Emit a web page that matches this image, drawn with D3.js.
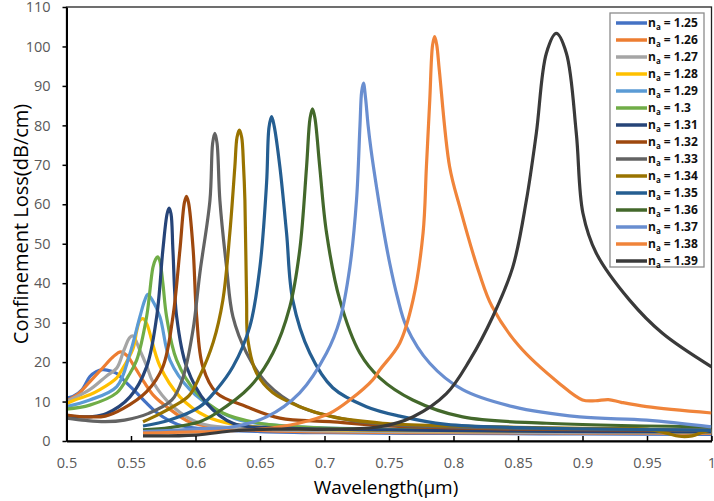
<!DOCTYPE html>
<html>
<head>
<meta charset="utf-8">
<script src="https://cdn.jsdelivr.net/npm/d3@7"></script>
<style>
    body { margin: 0; background: #fff; }
    .axis text { font-family: "Open Sans", sans-serif; font-size: 14.5px; fill: #595959; }
    .legend text { font-family: "Open Sans", sans-serif; font-weight: bold; font-size: 12px; fill: #111; }
</style>
</head>
<body>
<svg id="chart" width="714" height="501"></svg>
<script>
// wavelength (um), confinement loss (dB/cm)
var na125 = [[0.5,10.9],[0.505,11.3],[0.512,13],[0.518,16.3],[0.523,17.6],[0.528,18.1],[0.535,17.7],[0.539,17.1],[0.546,14.9],[0.5544,12.2],[0.5621,9.6],[0.5699,7.2],[0.58,5.1],[0.5902,3.8],[0.61,3],[0.65,2.4],[0.7,2.1],[0.8,1.9],[0.9,1.8],[1.0,1.7]];
var na126 = [[0.5,10.1],[0.51,12.2],[0.518,15],[0.528,18.5],[0.536,21.3],[0.542,22.6],[0.547,21.6],[0.552,19.2],[0.56,15],[0.5676,11.5],[0.5776,8.7],[0.5957,4.8],[0.62,3.3],[0.65,2.7],[0.7,2.3],[0.8,2.1],[0.9,2],[1.0,1.9]];
var na127 = [[0.5,10],[0.518,13],[0.5311,16.5],[0.539,18.5],[0.5445,23],[0.549,26.2],[0.5515,26.6],[0.5569,23],[0.5622,19],[0.567,15],[0.5825,8.7],[0.6034,4.5],[0.63,3.3],[0.68,2.7],[0.75,2.4],[0.85,2.2],[1.0,2.1]];
var na128 = [[0.5,9.4],[0.505,10.2],[0.518,11.7],[0.5259,13],[0.539,16],[0.5414,17.2],[0.5515,23.3],[0.5545,28],[0.557,30.6],[0.5595,31],[0.5625,29.5],[0.5647,27.2],[0.5724,19],[0.5879,11.2],[0.6086,6.2],[0.63,4.2],[0.67,3.2],[0.75,2.7],[0.85,2.5],[1.0,2.3]];
var na129 = [[0.5,8.7],[0.518,10.4],[0.539,13.8],[0.549,22],[0.5569,31.5],[0.5605,35.5],[0.563,37.2],[0.566,36],[0.5724,31.5],[0.5802,20.5],[0.5957,13],[0.6163,7.9],[0.6344,5.3],[0.67,3.8],[0.75,3],[0.85,2.7],[1.0,2.5]];
var na130 = [[0.5,8.1],[0.518,9.1],[0.5389,12.2],[0.548,16.5],[0.5544,20.5],[0.5621,31.5],[0.567,44],[0.569,46],[0.5706,46.7],[0.5722,45.8],[0.5747,40],[0.5776,31.5],[0.5854,20.5],[0.6009,12.2],[0.6212,7.1],[0.65,4.5],[0.7,3.3],[0.8,2.8],[0.9,2.6],[1.0,2.5]];
var na131 = [[0.5,6.3],[0.52,6.2],[0.5311,7],[0.5492,11.2],[0.5621,18.8],[0.5699,31.5],[0.5747,48.4],[0.578,57.6],[0.5795,59],[0.581,57.6],[0.5825,48.4],[0.5854,31.5],[0.5931,18.8],[0.6086,9.6],[0.629,4.5],[0.67,3.3],[0.75,2.8],[0.85,2.5],[1.0,2.3]];
var na132 = [[0.5,6.6],[0.51,6.2],[0.5182,6.1],[0.53,6.3],[0.5438,8.2],[0.5621,12.5],[0.5747,18.8],[0.5825,31.5],[0.5879,48.4],[0.5914,60.4],[0.593,62],[0.5946,60.4],[0.5982,48.4],[0.6009,31.5],[0.6057,18.8],[0.6163,12.2],[0.6396,8.7],[0.6654,5.8],[0.7041,4.9],[0.75,3.8],[0.85,3],[1.0,2.7]];
var na133 = [[0.5,5.8],[0.515,5.2],[0.53,4.9],[0.545,5.3],[0.5637,7],[0.5817,10.4],[0.5902,16],[0.598,28],[0.6034,42.6],[0.6112,61],[0.6133,75.5],[0.615,78],[0.6167,75.5],[0.6189,61],[0.6241,44],[0.629,31.5],[0.6396,22.3],[0.6551,14.7],[0.6808,8.7],[0.7196,5.3],[0.7583,4],[0.85,3.2],[1.0,2.8]];
var na134 = [[0.5593,4.9],[0.57,6.5],[0.5825,8.7],[0.595,11.5],[0.6034,16.5],[0.6137,25],[0.6212,35.7],[0.6266,52.7],[0.6305,69.5],[0.6322,77],[0.634,78.8],[0.6358,77],[0.6372,70],[0.6383,61],[0.6396,35.7],[0.6406,25.6],[0.6473,17.2],[0.66,12.2],[0.6808,8.7],[0.7064,6.1],[0.7452,4.5],[0.8,3.8],[0.9,3.2],[0.95,3],[0.965,2],[0.975,1.2],[0.985,1.3],[0.993,2.2],[1.0,2.8]];
var na135 = [[0.5593,3.8],[0.58,5.3],[0.6034,8.7],[0.6163,13],[0.629,18.8],[0.6421,29],[0.6499,44],[0.6551,65.4],[0.657,79.5],[0.659,82.2],[0.661,79.8],[0.6654,69.5],[0.6706,52.7],[0.6754,35.7],[0.6886,22.3],[0.7064,13.5],[0.7325,8.7],[0.7583,6.3],[0.7945,4.2],[0.85,3.4],[0.9,3.1],[1.0,2.7]];
var na136 = [[0.5593,2.8],[0.58,3.4],[0.6034,4.9],[0.6163,7.1],[0.6421,13.7],[0.66,22.3],[0.6731,34],[0.6808,48.4],[0.6861,69.5],[0.6888,81.8],[0.6907,84.2],[0.6926,81.8],[0.6963,69.5],[0.7016,52.7],[0.7119,35.7],[0.7274,22.3],[0.7428,16],[0.7684,10.4],[0.8071,6.1],[0.8722,4.5],[1.0,3.6]];
var na137 = [[0.5593,2.4],[0.6,3],[0.629,3.6],[0.6551,6.1],[0.6808,12.2],[0.7016,22.3],[0.7119,30.7],[0.7196,44],[0.7248,61],[0.7275,80],[0.7288,88.5],[0.7302,90.7],[0.7318,87],[0.7338,80],[0.736,74],[0.7405,64],[0.746,53],[0.7506,45],[0.7565,36.5],[0.7635,29],[0.7816,19.7],[0.8071,13],[0.8459,8.7],[0.8978,6.1],[0.9497,5.3],[1.0,3.6]];
var na138 = [[0.5593,2],[0.6,2.3],[0.65,3],[0.68,4.5],[0.704,7],[0.72,10.5],[0.7374,15.5],[0.7428,18],[0.7583,24.8],[0.7686,35.7],[0.7764,52.7],[0.779,69.5],[0.7816,86.4],[0.7838,100.4],[0.7854,102.5],[0.787,100.4],[0.789,94],[0.797,69.5],[0.8048,59.4],[0.82,42.5],[0.83,34],[0.851,24],[0.882,14.6],[0.9,10.4],[0.91,10.2],[0.92,10.5],[0.93,9.8],[0.9497,8.7],[1.0,7.1]];
var na139 = [[0.5593,1.3],[0.6,1.5],[0.63,2.6],[0.66,3],[0.704,3],[0.7428,3.6],[0.7684,6.1],[0.7945,12],[0.8126,20.5],[0.8304,31.5],[0.8459,44],[0.8565,61],[0.8642,78],[0.872,98.3],[0.8797,103.3],[0.8875,98.3],[0.8952,78],[0.9003,57.8],[0.9107,47.6],[0.9365,35.7],[0.962,27.3],[1.0,18.8]];

var naLabels = ["1.25", "1.26", "1.27", "1.28", "1.29", "1.3", "1.31", "1.32", "1.33", "1.34", "1.35", "1.36", "1.37", "1.38", "1.39"];
var naColors = ["#4472C4", "#ED7D31", "#A5A5A5", "#FFC000", "#5B9BD5", "#70AD47", "#264478", "#9E480E", "#636363", "#997300", "#255E91", "#43682B", "#698ED0", "#F0843A", "#3A3A3A"];
var xTicks = [0.5, 0.55, 0.6, 0.65, 0.7, 0.75, 0.8, 0.85, 0.9, 0.95, 1];
var yTicks = [0, 10, 20, 30, 40, 50, 60, 70, 80, 90, 100, 110];

var seriesData = [na125, na126, na127, na128, na129, na130, na131, na132, na133, na134, na135, na136, na137, na138, na139];

function lossChart(id) {
    var svg = d3.select("#" + id);
    svg.selectAll("*").remove();

    var left = 66.5, right = 711.5, top = 7, bottom = 441;

    var x = d3.scaleLinear().domain([0.5, 1]).range([left, right]),
        y = d3.scaleLinear().domain([0, 110]).range([bottom, top]);

    svg.append("defs").append("clipPath").attr("id", "plot-clip")
        .append("rect")
        .attr("x", left).attr("y", top)
        .attr("width", right - left).attr("height", bottom - top);

    // frame
    svg.append("rect")
        .attr("x", left).attr("y", top)
        .attr("width", right - left).attr("height", bottom - top)
        .attr("fill", "none")
        .attr("stroke", "#222")
        .attr("stroke-width", 1.3);

    var line = d3.line()
        .curve(d3.curveCatmullRom.alpha(0.5))
        .x(function (d) {
            return x(d[0]);
        })
        .y(function (d) {
            return y(d[1]);
        });

    svg.append("g")
        .attr("clip-path", "url(#plot-clip)")
        .selectAll("path")
        .data(seriesData)
        .enter().append("path")
        .attr("fill", "none")
        .attr("stroke", function (d, i) {
            return naColors[i];
        })
        .attr("stroke-width", 3.2)
        .attr("stroke-linejoin", "round")
        .attr("d", line);

    var axisX = d3.axisBottom(x)
        .tickValues(xTicks)
        .tickSizeInner(-5)
        .tickSizeOuter(0)
        .tickPadding(17)
        .tickFormat(function (d) {
            return d3.format("~g")(d);
        });

    var axisY = d3.axisLeft(y)
        .tickValues(yTicks)
        .tickSizeInner(4)
        .tickSizeOuter(0)
        .tickPadding(12);

    var gx = svg.append("g")
        .attr("class", "axis axis--x")
        .attr("transform", "translate(0," + bottom + ")")
        .call(axisX);

    var gy = svg.append("g")
        .attr("class", "axis axis--y")
        .attr("transform", "translate(" + left + ",0)")
        .call(axisY);

    gx.select(".domain").attr("stroke", "#000").attr("stroke-width", 2);
    gy.select(".domain").attr("stroke", "#000").attr("stroke-width", 2);
    gx.selectAll(".tick line").attr("stroke", "#000").attr("stroke-width", 1.5);
    gy.selectAll(".tick line").attr("stroke", "#000").attr("stroke-width", 1.5);

    svg.append("text")
        .attr("transform", "translate(28," + ((top + bottom) / 2) + ") rotate(-90)")
        .attr("text-anchor", "middle")
        .style("font", "20px 'Open Sans', sans-serif")
        .attr("fill", "#000")
        .text("Confinement Loss(dB/cm)");

    svg.append("text")
        .attr("x", 386)
        .attr("y", 494)
        .attr("text-anchor", "middle")
        .style("font", "19px 'Open Sans', sans-serif")
        .attr("fill", "#000")
        .text("Wavelength(\u03bcm)");

    // legend
    var legend = svg.append("g").attr("class", "legend");

    legend.append("rect")
        .attr("x", 610).attr("y", 13)
        .attr("width", 94).attr("height", 254)
        .attr("fill", "#fff")
        .attr("stroke", "#8c8c8c")
        .attr("stroke-width", 1.3);

    var item = legend.selectAll(".item")
        .data(naLabels)
        .enter().append("g")
        .attr("class", "item")
        .attr("transform", function (d, i) {
            return "translate(0," + (23 + i * 17) + ")";
        });

    item.append("line")
        .attr("x1", 616).attr("x2", 647)
        .attr("stroke", function (d, i) {
            return naColors[i];
        })
        .attr("stroke-width", 3.5);

    var t = item.append("text")
        .attr("x", 648)
        .attr("dy", "0.35em");
    t.append("tspan").text("n");
    t.append("tspan").attr("dy", 3).style("font-size", "8px").text("a");
    t.append("tspan").attr("dy", -3).text(function (d) {
        return " = " + d;
    });
}

lossChart("chart");
</script>
</body>
</html>
